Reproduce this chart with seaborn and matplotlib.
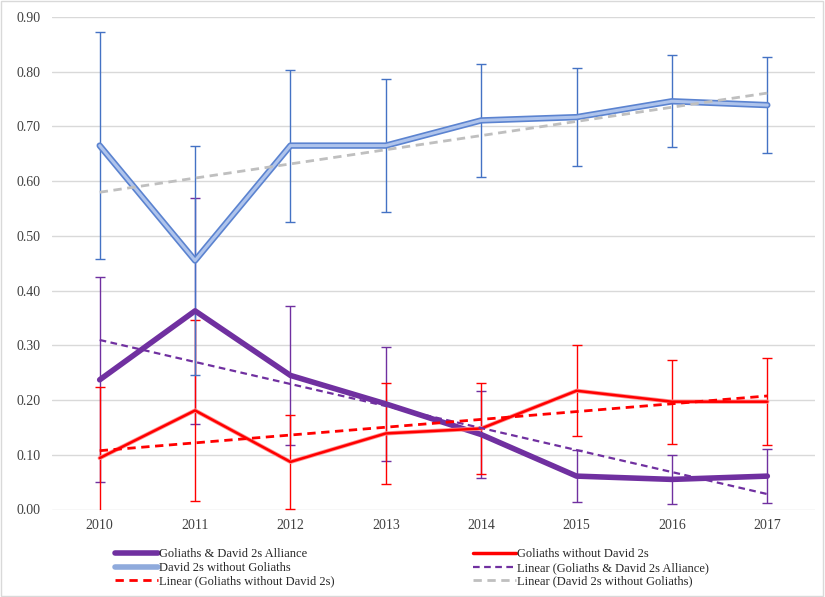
import numpy as np
import pandas as pd
import seaborn as sns
import matplotlib
matplotlib.use("Agg")
import matplotlib.pyplot as plt
from matplotlib.lines import Line2D
from matplotlib.patches import Rectangle

years = ["2010", "2011", "2012", "2013", "2014", "2015", "2016", "2017"]
alliance = [0.237, 0.363, 0.245, 0.193, 0.137, 0.061, 0.055, 0.061]
alliance_err = [0.187, 0.206, 0.127, 0.104, 0.079, 0.048, 0.045, 0.050]
goliaths = [0.094, 0.181, 0.087, 0.139, 0.148, 0.217, 0.197, 0.197]
goliaths_err = [0.129, 0.165, 0.086, 0.092, 0.084, 0.083, 0.077, 0.080]
david = [0.665, 0.455, 0.665, 0.665, 0.711, 0.717, 0.746, 0.739]
david_err = [0.207, 0.210, 0.139, 0.122, 0.104, 0.090, 0.084, 0.088]

names = ["Goliaths & David 2s Alliance", "Goliaths without David 2s", "David 2s without Goliaths"]

sns.set_theme(style="white")
plt.rcParams['font.family'] = ['Liberation Serif', 'DejaVu Serif']

pos = np.arange(len(years))
df = pd.DataFrame({"pos": np.tile(pos, 3),
                   "value": alliance + goliaths + david,
                   "err": alliance_err + goliaths_err + david_err,
                   "series": np.repeat(names, len(years))})

fig = plt.figure(figsize=(8.25, 5.97), dpi=100)
ax = fig.add_axes([52/825, 1 - 509.5/597, (815 - 52)/825, (509.5 - 17)/597])

purple = "#7030A0"
red = "#FF0000"
blue = "#4472C4"
gray = "#BFBFBF"

# error bars
for name, col in [(names[0], purple), (names[1], red), (names[2], blue)]:
    d = df[df.series == name]
    ax.errorbar(d.pos, d.value, yerr=d.err, fmt="none", ecolor=col, elinewidth=1.0,
                capsize=3.5, capthick=1.0, zorder=2)

# lines
d = df[df.series == names[0]]
sns.lineplot(data=d, x="pos", y="value", color=purple, lw=4, ax=ax, zorder=4, legend=False)
d = df[df.series == names[1]]
sns.lineplot(data=d, x="pos", y="value", color="#FF9090", lw=3.0, ax=ax, zorder=4, legend=False)
sns.lineplot(data=d, x="pos", y="value", color=red, lw=1.8, ax=ax, zorder=4, legend=False)
d = df[df.series == names[2]]
sns.lineplot(data=d, x="pos", y="value", color="#5B83D0", lw=4.6, ax=ax, zorder=4, legend=False)
sns.lineplot(data=d, x="pos", y="value", color="#AFC4EC", lw=2.2, ax=ax, zorder=4, legend=False)

# linear trendlines
for name, col, lw in [(names[0], purple, 1.6), (names[1], red, 2.0), (names[2], gray, 2.0)]:
    d = df[df.series == name]
    sns.regplot(data=d, x="pos", y="value", ci=None, scatter=False, ax=ax,
                line_kws=dict(color=col, lw=lw, ls=(0, (3, 2)), zorder=5))

ax.set_xlim(-0.5, len(years) - 0.5)
ax.set_ylim(0, 0.9)
ax.set_yticks(np.arange(0, 0.91, 0.1))
ax.set_yticklabels([f"{v:.2f}" for v in np.arange(0, 0.91, 0.1)])
ax.set_xticks(pos)
ax.set_xticklabels(years)
ax.set_xlabel("")
ax.set_ylabel("")
ax.grid(axis="y", color="#D9D9D9", lw=1)
ax.grid(axis="x", visible=False)
ax.set_axisbelow(True)
for s in ax.spines.values():
    s.set_visible(False)
ax.tick_params(axis="y", length=0, pad=8, labelsize=10, colors="#404040")
ax.tick_params(axis="x", length=0, pad=7, labelsize=10, colors="#404040")

leg_kw = dict(loc="upper left", frameon=False, fontsize=9, handlelength=3.4,
              handletextpad=0.1, labelspacing=0.15, borderaxespad=0, borderpad=0)
h1 = [Line2D([], [], color=purple, lw=4),
      Line2D([], [], color="#8FAADC", lw=4),
      Line2D([], [], color=red, lw=2, ls=(0, (3, 2)))]
l1 = ["Goliaths & David 2s Alliance", "David 2s without Goliaths",
      "Linear (Goliaths without David 2s)"]
h2 = [Line2D([], [], color=red, lw=2.5),
      Line2D([], [], color=purple, lw=1.6, ls=(0, (3, 2))),
      Line2D([], [], color=gray, lw=2, ls=(0, (3, 2)))]
l2 = ["Goliaths without David 2s", "Linear (Goliaths & David 2s Alliance)",
      "Linear (David 2s without Goliaths)"]
fig.legend(h1, l1, bbox_to_anchor=(115/825, 1 - 548/597), **leg_kw)
fig.legend(h2, l2, bbox_to_anchor=(473/825, 1 - 548/597), **leg_kw)

fig.patches.append(Rectangle((0.001, 0.001), 0.997, 0.997, transform=fig.transFigure,
                             fill=False, edgecolor="#D9D9D9", lw=1))

fig.savefig("out.png", dpi=100)
